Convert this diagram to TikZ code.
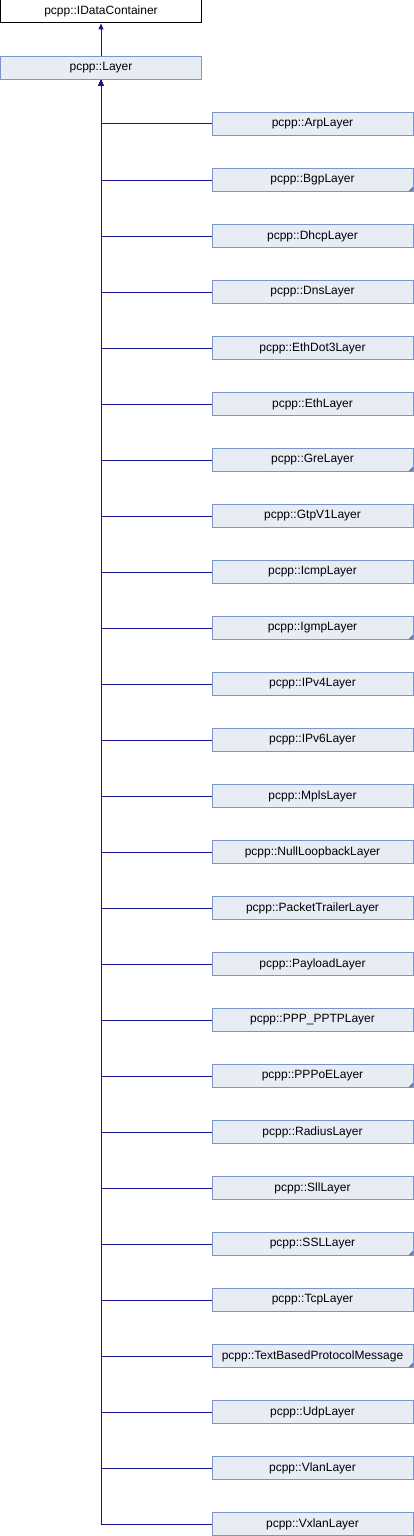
\documentclass[tikz,border=0pt]{standalone}
\usepackage{fontspec}
\setmainfont{Liberation Sans}
\usetikzlibrary{arrows.meta}

\definecolor{boxfill}{RGB}{232,236,245}
\definecolor{boxline}{RGB}{124,148,204}
\definecolor{edgeblue}{RGB}{20,20,140}
\definecolor{foldgray}{RGB}{100,125,170}

\begin{document}
\begin{tikzpicture}[
  x=1pt, y=1pt,
  class box/.style={
    draw=boxline,
    fill=boxfill,
    line width=1pt,
    minimum width=201pt,
    minimum height=23pt,
    inner sep=0pt,
    font=\fontsize{12}{14}\selectfont
  },
  root box/.style={
    class box,
    draw=black,
    fill=white
  },
  folded/.style={
    path picture={
      \fill[foldgray] (path picture bounding box.south east)
        -- ++(-5pt,0) -- ++(5pt,5pt) -- cycle;
    }
  },
  inherit arrow/.style={
    -{Triangle[length=6pt,width=5pt]},
    draw=edgeblue,
    line width=1pt
  }
]
\useasboundingbox (0,0) rectangle (414,-1536);

\node[root box] (container) at (101,-11.5) {pcpp::IDataContainer};
\node[class box] (layer) at (101,-68) {pcpp::Layer};

\node[class box] (arp) at (312.5,-124) {pcpp::ArpLayer};
\node[class box, folded] (bgp) at (312.5,-180) {pcpp::BgpLayer};
\node[class box] (dhcp) at (312.5,-236) {pcpp::DhcpLayer};
\node[class box] (dns) at (312.5,-292) {pcpp::DnsLayer};
\node[class box] (ethdot3) at (312.5,-348) {pcpp::EthDot3Layer};
\node[class box] (eth) at (312.5,-404) {pcpp::EthLayer};
\node[class box, folded] (gre) at (312.5,-460) {pcpp::GreLayer};
\node[class box] (gtpv1) at (312.5,-516) {pcpp::GtpV1Layer};
\node[class box] (icmp) at (312.5,-572) {pcpp::IcmpLayer};
\node[class box, folded] (igmp) at (312.5,-628) {pcpp::IgmpLayer};
\node[class box] (ipv4) at (312.5,-684) {pcpp::IPv4Layer};
\node[class box] (ipv6) at (312.5,-740) {pcpp::IPv6Layer};
\node[class box] (mpls) at (312.5,-796) {pcpp::MplsLayer};
\node[class box] (nullloop) at (312.5,-852) {pcpp::NullLoopbackLayer};
\node[class box] (trailer) at (312.5,-908) {pcpp::PacketTrailerLayer};
\node[class box] (payload) at (312.5,-964) {pcpp::PayloadLayer};
\node[class box] (pptp) at (312.5,-1020) {pcpp::PPP\_PPTPLayer};
\node[class box, folded] (pppoe) at (312.5,-1076) {pcpp::PPPoELayer};
\node[class box] (radius) at (312.5,-1132) {pcpp::RadiusLayer};
\node[class box] (sll) at (312.5,-1188) {pcpp::SllLayer};
\node[class box, folded] (ssl) at (312.5,-1244) {pcpp::SSLLayer};
\node[class box] (tcp) at (312.5,-1300) {pcpp::TcpLayer};
\node[class box, folded] (textbased) at (312.5,-1356) {pcpp::TextBasedProtocolMessage};
\node[class box] (udp) at (312.5,-1412) {pcpp::UdpLayer};
\node[class box] (vlan) at (312.5,-1468) {pcpp::VlanLayer};
\node[class box] (vxlan) at (312.5,-1524) {pcpp::VxlanLayer};

\draw[inherit arrow] (layer) -- (container);
\foreach \child in {arp,bgp,dhcp,dns,ethdot3,eth,gre,gtpv1,icmp,igmp,ipv4,ipv6,mpls,
    nullloop,trailer,payload,pptp,pppoe,radius,sll,ssl,tcp,textbased,udp,vlan,vxlan}
  \draw[inherit arrow] (\child.west) -| (layer.south);

\end{tikzpicture}
\end{document}
